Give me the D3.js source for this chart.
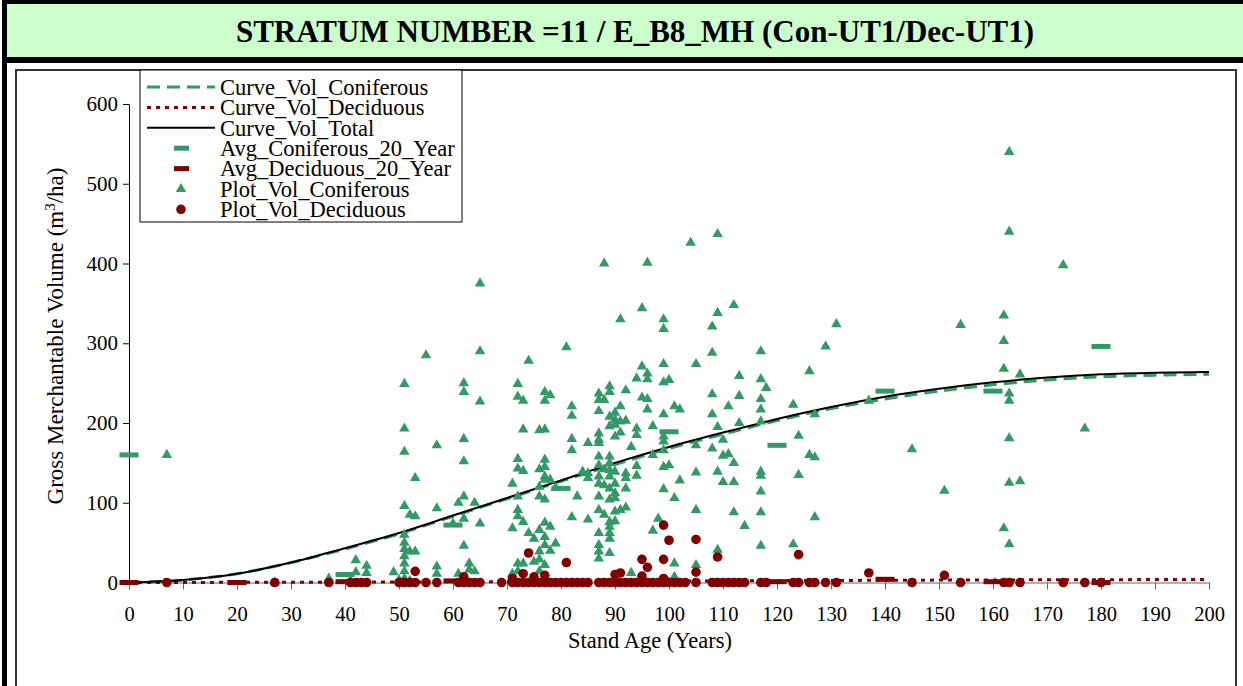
<!DOCTYPE html>
<html>
<head>
<meta charset="utf-8">
<script src="https://cdn.jsdelivr.net/npm/d3@7"></script>
<style>
body{margin:0;background:#fff}
svg{display:block}
text{font-family:"Times New Roman","Liberation Serif",serif}
</style>
</head>
<body>
<script>
// curve ages and volumes
var curveAges = [0,10,20,30,40,50,60,70,80,90,100,110,120,130,140,150,160,170,180,190,200];
var curveTotal = [0,3,11,25,43,62,84,106,128,150,170,188,205,220,233,243,251,257,261,263,264];
var curveCon = [0,3,11,25,42,61,83,105,127,148,168,186,203,218,230,240,248,254,258,260,261];
var curveDec = [0,0.1,0.2,0.4,0.5,0.7,0.9,1.1,1.3,1.6,1.8,2,2.3,2.5,2.8,3,3.2,3.4,3.5,3.7,3.8];

// 20 year averages
var avgAges = [0,20,40,60,80,100,120,140,160,180];
var avgCon = [160,0,10,72,118,189,172,240,240,296];
var avgDec = [0,0,1,2,1,3,1,4,1,0];

// plot volumes [age, vol]
var plotCon = [
 [7,160],[27,0],[37,5],[41,2],[42,28],[42,13],[44,21],[44,12],[49,13],[50,3],
 [51,249],[51,193],[51,164],[51,96],[51,60],[51,50],[51,42],[51,33],[51,24],[51,14],[51,5],
 [52,85],[52,39],[52,2],[53,83],[53,39],[53,131],[55,285],[57,172],[57,93],[57,20],[57,11],
 [60,74],[61,100],[61,11],[62,250],[62,239],[62,180],[62,152],[62,108],[62,80],[62,46],[62,4],
 [63,24],[63,16],[64,14],[64,100],[65,375],[65,290],[65,227],[65,74],
 [71,124],[71,68],[71,11],[72,249],[72,233],[72,155],[72,143],[72,108],[72,91],[72,83],[72,24],[72,14],
 [73,228],[73,192],[73,140],[73,76],[73,24],[74,278],[74,62],[75,55],[75,26],
 [76,191],[76,142],[76,120],[76,108],[76,66],[76,39],[76,29],[76,14],
 [77,239],[77,228],[77,192],[77,154],[77,145],[77,133],[77,129],[77,104],[77,75],[77,57],[77,47],[77,22],
 [78,235],[78,129],[78,70],[78,40],[79,119],[79,49],
 [81,295],[82,221],[82,209],[82,180],[82,166],[82,82],[83,108],[84,139],[85,175],[85,137],[85,131],[85,79],
 [87,237],[87,229],[87,215],[87,187],[87,179],[87,175],[87,158],[87,147],[87,133],[87,124],[87,108],[87,91],
 [87,62],[87,47],[87,39],[87,30],[88,400],[88,229],[88,142],[88,122],[88,85],
 [89,246],[89,239],[89,208],[89,196],[89,158],[89,150],[89,141],[89,133],[89,118],[89,104],[89,76],[89,70],[89,62],[89,55],[89,37],
 [90,213],[90,204],[90,198],[90,183],[90,139],[90,124],[90,112],[90,106],[90,89],[90,77],
 [91,330],[91,221],[91,202],[91,188],[91,91],[92,241],[92,203],[92,137],[92,131],[92,118],[92,94],
 [93,170],[93,12],[94,256],[94,193],[94,185],[94,146],[94,134],[95,344],[95,271],[95,232],
 [96,401],[96,262],[96,255],[96,230],[96,217],[97,196],[97,160],[97,65],[98,80],
 [99,330],[99,318],[99,274],[99,251],[99,211],[99,183],[99,177],[99,166],[99,145],[99,117],[100,254],[100,147],
 [101,221],[101,106],[101,24],[101,7],[102,217],[102,128],[104,426],
 [105,274],[105,172],[105,138],[105,91],[105,22],
 [108,321],[108,288],[108,236],[108,211],[108,168],[109,437],[109,338],[109,195],[109,139],[109,41],
 [110,179],[110,159],[110,126],[111,221],[111,161],[112,348],[112,150],[112,126],[112,88],
 [113,259],[113,234],[113,200],[114,71],
 [117,290],[117,255],[117,230],[117,217],[117,202],[117,139],[117,134],[117,114],[117,88],[117,46],[118,244],
 [123,223],[123,48],[124,184],[124,135],[126,265],[126,160],[127,211],[127,157],[127,82],[129,296],[131,324],
 [137,228],[145,167],[151,115],[154,323],
 [162,335],[162,303],[162,268],[162,68],[163,540],[163,440],[163,237],[163,228],[163,181],[163,125],[163,48],
 [165,261],[165,127],[173,398],[177,193]
];
var plotDec = [
 [53,14],[62,7],[71,5],[73,11],[74,37],[75,7],[77,9],[81,25],[90,10],[91,12],[95,29],[95,8],[96,19],
 [99,72],[99,29],[99,5],[100,53],[105,54],[105,13],[109,32],[124,35],[137,12],[151,9],
 [7,0],[27,0],[37,0],[41,0],[42,0],[43,0],[44,0],[50,0],[51,0],[52,0],[53,0],[55,0],[57,0],
 [61,0],[62,0],[63,0],[64,0],[65,0],[69,0],[71,0],[72,0],[73,0],[74,0],[75,0],[76,0],[77,0],[78,0],[79,0],
 [80,0],[81,0],[82,0],[83,0],[84,0],[85,0],[87,0],[88,0],[89,0],[90,0],[91,0],[92,0],[93,0],[94,0],[95,0],
 [96,0],[97,0],[98,0],[99,0],[100,0],[101,0],[102,0],[103,0],[105,0],[108,0],[109,0],[110,0],[111,0],
 [112,0],[113,0],[114,0],[117,0],[118,0],[123,0],[124,0],[126,0],[127,0],[129,0],[131,0],[145,0],
 [154,0],[162,0],[163,0],[165,0],[173,0],[177,0],[180,0]
];

var xTicks = d3.range(0, 201, 10);
var yTicks = [0,100,200,300,400,500,600];

var legendItems = ["Curve_Vol_Coniferous","Curve_Vol_Deciduous","Curve_Vol_Total",
  "Avg_Coniferous_20_Year","Avg_Deciduous_20_Year","Plot_Vol_Coniferous","Plot_Vol_Deciduous"];

var green = "#339966", red = "#800000";

var svg = d3.select("body").append("svg")
    .attr("width", 1243)
    .attr("height", 686);

// frame and title box
svg.append("rect").attr("x",2).attr("y",0).attr("width",1241).attr("height",63).attr("fill","#000");
svg.append("rect").attr("x",7).attr("y",4).attr("width",1236).attr("height",53).attr("fill","#ccffcc");
svg.append("rect").attr("x",2).attr("y",63).attr("width",5).attr("height",623).attr("fill","#000");
svg.append("rect").attr("x",16).attr("y",70).attr("width",1220).attr("height",700)
    .attr("fill","#fff").attr("stroke","#333").attr("stroke-width",2);

svg.append("text")
    .attr("x",635).attr("y",42)
    .attr("text-anchor","middle")
    .attr("font-size",31).attr("font-weight","bold")
    .text("STRATUM NUMBER =11 / E_B8_MH (Con-UT1/Dec-UT1)");

var x = d3.scaleLinear().domain([0,200]).range([129,1209]);
var y = d3.scaleLinear().domain([0,600]).range([582.5,104]);

// axes
var yAxis = svg.append("g")
    .attr("transform","translate(129,0)")
    .call(d3.axisLeft(y).tickValues(yTicks).tickSize(6).tickPadding(5).tickSizeOuter(0));
yAxis.selectAll("text").attr("font-size",21).attr("font-family",null).attr("fill","#000");
yAxis.selectAll("line,path").attr("stroke","#000");

var xAxis = svg.append("g")
    .attr("transform","translate(0,582.5)")
    .call(d3.axisBottom(x).tickValues(xTicks).tickSize(7).tickPadding(17).tickSizeOuter(0));
xAxis.selectAll("text").attr("font-size",20.5).attr("font-family",null).attr("fill","#000");
xAxis.selectAll("line,path").attr("stroke","#666");

svg.append("text")
    .attr("x",650).attr("y",648)
    .attr("text-anchor","middle").attr("font-size",22.5)
    .text("Stand Age (Years)");

var ylab = svg.append("text")
    .attr("transform","translate(63,336) rotate(-90)")
    .attr("text-anchor","middle").attr("font-size",23);
ylab.append("tspan").text("Gross Merchantable Volume (m");
ylab.append("tspan").attr("baseline-shift","super").attr("font-size",15).text("3");
ylab.append("tspan").text("/ha)");

// curves
var line = d3.line()
    .x(function(d){return x(d[0]);})
    .y(function(d){return y(d[1]);})
    .curve(d3.curveMonotoneX);

svg.append("path")
    .datum(curveAges.map(function(a,i){return [a,curveCon[i]];}))
    .attr("d",line).attr("fill","none")
    .attr("stroke",green).attr("stroke-width",3).attr("stroke-dasharray","13,7");
svg.append("path")
    .datum(curveAges.map(function(a,i){return [a,curveDec[i]];}))
    .attr("d",line).attr("fill","none")
    .attr("stroke",red).attr("stroke-width",3).attr("stroke-dasharray","4,5");
svg.append("path")
    .datum(curveAges.map(function(a,i){return [a,curveTotal[i]];}))
    .attr("d",line).attr("fill","none")
    .attr("stroke","#000").attr("stroke-width",2);

// 20 year averages
svg.selectAll("rect.avgcon")
    .data(avgAges.map(function(a,i){return [a,avgCon[i]];}))
    .enter().append("rect").attr("class","avgcon")
    .attr("x",function(d){return x(d[0])-9.5;})
    .attr("y",function(d){return y(d[1])-2.5;})
    .attr("width",19).attr("height",5).attr("fill",green);
svg.selectAll("rect.avgdec")
    .data(avgAges.map(function(a,i){return [a,avgDec[i]];}))
    .enter().append("rect").attr("class","avgdec")
    .attr("x",function(d){return x(d[0])-9.5;})
    .attr("y",function(d){return y(d[1])-2.5;})
    .attr("width",19).attr("height",5).attr("fill",red);

// plots
var tri = d3.symbol().type(d3.symbolTriangle).size(48);
svg.selectAll("path.con")
    .data(plotCon)
    .enter().append("path").attr("class","con")
    .attr("d",tri)
    .attr("transform",function(d){return "translate("+x(d[0])+","+y(d[1])+")";})
    .attr("fill",green);
svg.selectAll("circle.dec")
    .data(plotDec)
    .enter().append("circle").attr("class","dec")
    .attr("cx",function(d){return x(d[0]);})
    .attr("cy",function(d){return y(d[1]);})
    .attr("r",4.8).attr("fill",red);

// legend
var lg = svg.append("g");
lg.append("rect").attr("x",140).attr("y",70).attr("width",322).attr("height",152)
    .attr("fill","#fff").attr("stroke","#000").attr("stroke-width",1);
var rows = lg.selectAll("g.row").data(legendItems).enter().append("g")
    .attr("transform",function(d,i){return "translate(0,"+(87+i*20.4)+")";});
rows.append("text").attr("x",220).attr("dy","0.35em").attr("font-size",22.5)
    .text(function(d){return d;});
rows.each(function(d,i){
  var g = d3.select(this);
  if (i==0) g.append("line").attr("x1",147).attr("x2",215).attr("stroke",green).attr("stroke-width",3).attr("stroke-dasharray","13,7");
  if (i==1) g.append("line").attr("x1",147).attr("x2",215).attr("stroke",red).attr("stroke-width",3).attr("stroke-dasharray","4,5");
  if (i==2) g.append("line").attr("x1",147).attr("x2",215).attr("stroke","#000").attr("stroke-width",2);
  if (i==3) g.append("rect").attr("x",174).attr("y",-2.5).attr("width",15).attr("height",5).attr("fill",green);
  if (i==4) g.append("rect").attr("x",174).attr("y",-2.5).attr("width",15).attr("height",5).attr("fill",red);
  if (i==5) g.append("path").attr("d",tri).attr("transform","translate(181,0)").attr("fill",green);
  if (i==6) g.append("circle").attr("cx",181).attr("r",4.8).attr("fill",red);
});
</script>
</body>
</html>
